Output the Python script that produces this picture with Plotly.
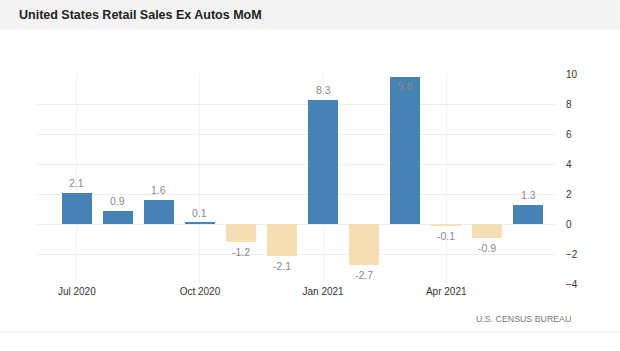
import plotly.graph_objects as go

months = ["Jul 2020", "Aug 2020", "Sep 2020", "Oct 2020", "Nov 2020", "Dec 2020",
          "Jan 2021", "Feb 2021", "Mar 2021", "Apr 2021", "May 2021", "Jun 2021"]
values = [2.1, 0.9, 1.6, 0.1, -1.2, -2.1, 8.3, -2.7, 9.8, -0.1, -0.9, 1.3]
tick_idx = [0, 3, 6, 9]
tick_labels = ["Jul 2020", "Oct 2020", "Jan 2021", "Apr 2021"]
y_ticks = [-4, -2, 0, 2, 4, 6, 8, 10]

POS = "#4682B4"
NEG = "#F5DEB3"

x = list(range(len(values)))
colors = [POS if v >= 0 else NEG for v in values]

fig = go.Figure()
fig.add_trace(go.Bar(x=x, y=values, marker=dict(color=colors, line=dict(width=0)),
                     width=0.73, hoverinfo="skip"))

YMAX = 10
YMIN = -4
LBL = dict(size=10.5, color="#8a8a8a")
for xi, v in zip(x, values):
    if v >= 0:
        if v > YMAX - 0.6:
            fig.add_annotation(x=xi, y=v, text=f"{v:.1f}", showarrow=False,
                               yanchor="top", yshift=-1, font=LBL)
        else:
            fig.add_annotation(x=xi, y=v, text=f"{v:.1f}", showarrow=False,
                               yanchor="bottom", yshift=2, font=LBL)
    else:
        fig.add_annotation(x=xi, y=v, text=f"{v:.1f}", showarrow=False,
                           yanchor="top", yshift=-2, font=LBL)

# layout geometry (pixels)
W, H = 620, 351
L, R, T, B = 37, 555, 74, 284
pw, ph = R - L, B - T

def px(xp):
    return (xp - L) / pw

def py(yp):
    return (B - yp) / ph

fig.add_shape(type="rect", xref="paper", yref="paper", x0=px(0), x1=px(W),
              y0=py(30), y1=py(0), fillcolor="#f4f4f4", line=dict(width=0), layer="below")
fig.add_shape(type="line", xref="paper", yref="paper", x0=px(0), x1=px(W),
              y0=py(332), y1=py(332), line=dict(color="#ececec", width=1))
fig.add_annotation(xref="paper", yref="paper", x=px(17), y=py(15), xanchor="left",
                   yanchor="middle", showarrow=False,
                   text="<b>United States Retail Sales Ex Autos MoM</b>",
                   font=dict(size=12.5, color="#222222", family="Liberation Sans, Arial"))
fig.add_annotation(xref="paper", yref="paper", x=px(573), y=py(319), xanchor="right",
                   yanchor="middle", showarrow=False, text="U.S. CENSUS BUREAU",
                   font=dict(size=8.8, color="#777777"))

fig.update_layout(
    width=W, height=H,
    margin=dict(l=L, r=W - R, t=T, b=H - B, pad=0),
    paper_bgcolor="white", plot_bgcolor="white",
    showlegend=False, bargap=0,
    font=dict(family="Liberation Sans, Arial", size=10, color="#333333"),
    xaxis=dict(range=[-0.97, 11.65], tickvals=tick_idx, ticktext=tick_labels,
               showgrid=True, gridcolor="#f2f2f2", zeroline=False, showline=False,
               ticks="", tickfont=dict(size=10, color="#333333")),
    yaxis=dict(range=[YMIN, YMAX], tickvals=y_ticks, side="right",
               showgrid=True, gridcolor="#ececec", zeroline=False, showline=False,
               ticks="", ticklabelstandoff=10, tickfont=dict(size=10, color="#333333")),
)

fig.write_html("out.html")
